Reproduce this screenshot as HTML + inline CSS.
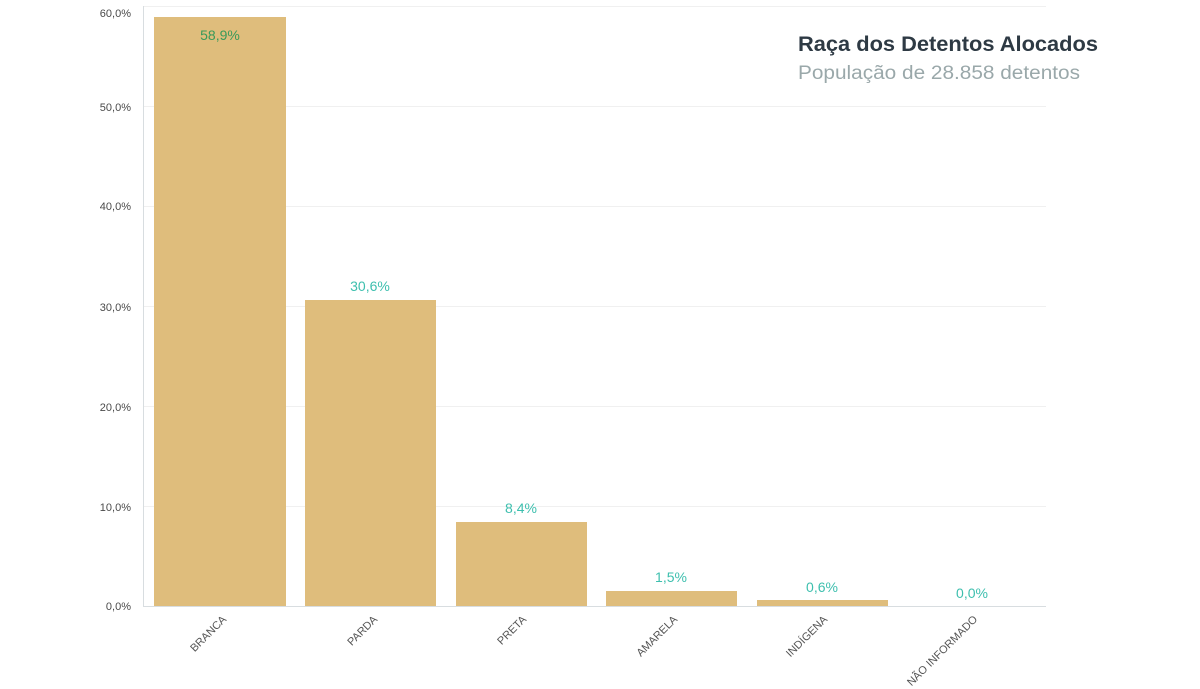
<!DOCTYPE html>
<html><head><meta charset="utf-8"><style>
html,body{margin:0;padding:0;background:#fff;}
svg{display:block;font-family:"Liberation Sans",sans-serif;}
</style></head><body>
<svg width="1200" height="689" viewBox="0 0 1200 689">
<g stroke="#f0f0f0" stroke-width="1">
<line x1="143" y1="6.5" x2="1046" y2="6.5"/>
<line x1="143" y1="106.5" x2="1046" y2="106.5"/>
<line x1="143" y1="206.5" x2="1046" y2="206.5"/>
<line x1="143" y1="306.5" x2="1046" y2="306.5"/>
<line x1="143" y1="406.5" x2="1046" y2="406.5"/>
<line x1="143" y1="506.5" x2="1046" y2="506.5"/>
</g>
<line x1="143.5" y1="6" x2="143.5" y2="607" stroke="#d8dde0"/>
<g font-size="11" fill="#4a4a4a" text-anchor="end">
<text x="131" y="17">60,0%</text>
<text x="131" y="111">50,0%</text>
<text x="131" y="210">40,0%</text>
<text x="131" y="311">30,0%</text>
<text x="131" y="411">20,0%</text>
<text x="131" y="511">10,0%</text>
<text x="131" y="610">0,0%</text>
</g>
<g fill="#dfbd7c">
<rect x="154" y="17" width="132" height="589"/>
<rect x="305" y="300" width="131" height="306"/>
<rect x="456" y="522" width="131" height="84"/>
<rect x="606" y="591" width="131" height="15"/>
<rect x="757" y="600" width="131" height="6"/>
</g>
<line x1="143" y1="606.5" x2="1046" y2="606.5" stroke="#d8dde0"/>
<g font-size="14" text-anchor="middle" fill="#3dbfae">
<text x="220" y="40" fill="#3a9a5a">58,9%</text>
<text x="370" y="291">30,6%</text>
<text x="521" y="513">8,4%</text>
<text x="671" y="582">1,5%</text>
<text x="822" y="592">0,6%</text>
<text x="972" y="598">0,0%</text>
</g>
<g font-size="11" fill="#555" text-anchor="end">
<text transform="translate(227,620) rotate(-45)">BRANCA</text>
<text transform="translate(378,620) rotate(-45)">PARDA</text>
<text transform="translate(527,620) rotate(-45)">PRETA</text>
<text transform="translate(678,620) rotate(-45)">AMARELA</text>
<text transform="translate(828,620) rotate(-45)">INDÍGENA</text>
<text transform="translate(978,620) rotate(-45)">NÃO INFORMADO</text>
</g>
<text x="798" y="51" font-size="21" font-weight="600" fill="#2e3a44" textLength="300" lengthAdjust="spacingAndGlyphs">Raça dos Detentos Alocados</text>
<text x="798" y="79" font-size="19" fill="#9aa8aa" textLength="282" lengthAdjust="spacingAndGlyphs">População de 28.858 detentos</text>
</svg>
</body></html>
